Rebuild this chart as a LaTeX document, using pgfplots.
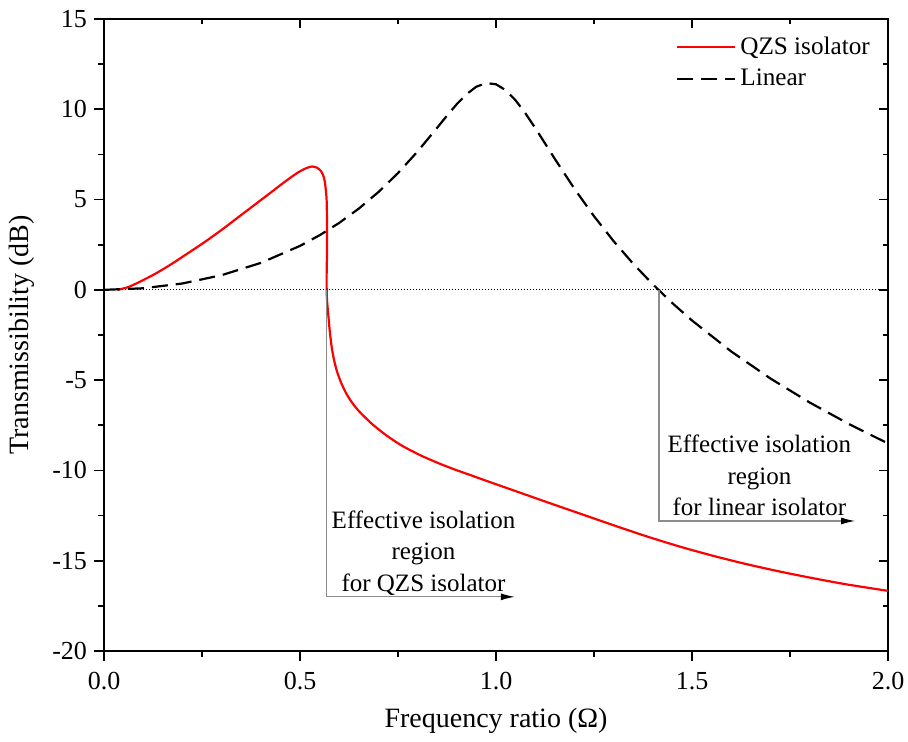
\documentclass[border=0pt]{standalone}
\usepackage{fontspec}
\setmainfont{Liberation Serif}
\usepackage{pgfplots}
\pgfplotsset{compat=1.18}
\usetikzlibrary{arrows.meta}
\begin{document}
\begin{tikzpicture}
\begin{axis}[
  scale only axis, width=392pt, height=316pt,
  xmin=0, xmax=2, ymin=-20, ymax=15,
  xtick={0,0.5,1,1.5,2}, ytick={-20,-15,-10,-5,0,5,10,15},
  minor x tick num=1, minor y tick num=1,
  xtick pos=left, ytick pos=left, tick align=outside,
  major tick length=5pt, minor tick length=2.8pt,
  axis line style={line width=0.8pt},
  tick style={line width=0.8pt, black},
  /pgf/number format/assume math mode=true,
  xticklabel style={/pgf/number format/.cd, fixed, fixed zerofill, precision=1, /tikz/.cd, yshift=-2pt},
  tick label style={font=\fontsize{13}{15}\selectfont},
  xlabel={Frequency ratio (Ω)},
  ylabel={Transmissibility (dB)},
  label style={font=\fontsize{14}{16}\selectfont},
  xlabel style={at={(rel axis cs:0.5,-0.11)}, anchor=center},
  ylabel style={at={(rel axis cs:-0.1046,0.5)}, anchor=center},
  legend cell align=left,
  legend style={draw=none, fill=none, at={(rel axis cs:0.985,0.982)}, anchor=north east,
    font=\fontsize{12.6}{14}\selectfont, row sep=2pt, inner sep=1pt},
  legend image code/.code={\draw[#1] (0pt,0pt) -- (29pt,0pt);},
]
\coordinate (SW) at (rel axis cs:0,0);
\coordinate (NE) at (rel axis cs:1,1);
\addplot[red, line width=1.1pt, smooth, tension=0.4] coordinates {
(0.034,0) (0.06,0.14) (0.085,0.38) (0.13,0.88) (0.17,1.40) (0.21,1.97) (0.255,2.62) (0.30,3.32)
(0.34,3.98) (0.38,4.64) (0.425,5.38) (0.45,5.80) (0.476,6.22) (0.495,6.50) (0.51,6.68) (0.521,6.78)
(0.531,6.83) (0.543,6.77) (0.553,6.59) (0.559,6.35) (0.563,6.03) (0.566,5.5) (0.568,4.93)
(0.569,3.5) (0.569,2.16) (0.568,1.0) (0.568,0) (0.569,-0.6) (0.572,-1.35) (0.576,-2.3)
(0.581,-3.19) (0.587,-3.9) (0.594,-4.49) (0.605,-5.15) (0.619,-5.78) (0.635,-6.31) (0.653,-6.78)
(0.685,-7.45) (0.721,-8.07) (0.76,-8.63) (0.806,-9.15) (0.85,-9.57) (0.891,-9.92) (0.935,-10.26)
(0.959,-10.45) (1.044,-11.1) (1.129,-11.75) (1.214,-12.39) (1.299,-13.03) (1.384,-13.65)
(1.469,-14.22) (1.554,-14.73) (1.639,-15.19) (1.724,-15.60) (1.809,-15.97) (1.894,-16.31) (2.0,-16.67)
};
\addlegendentry{QZS isolator}
\addplot[black, line width=1.1pt, dash pattern=on 8pt off 4pt] coordinates {
(0,0) (0.1,0.087) (0.2,0.353) (0.3,0.813) (0.4,1.492) (0.5,2.434) (0.55,3.024) (0.6,3.708)
(0.65,4.499) (0.7,5.414) (0.75,6.467) (0.8,7.665) (0.85,8.980) (0.875,9.648) (0.9,10.285)
(0.925,10.841) (0.95,11.252) (0.975,11.449) (1.0,11.385) (1.025,11.053) (1.05,10.495)
(1.075,9.777) (1.1,8.965) (1.125,8.112) (1.15,7.254) (1.2,5.600) (1.25,4.078) (1.3,2.697)
(1.35,1.445) (1.4,0.306) (1.45,-0.737) (1.5,-1.697) (1.6,-3.412) (1.7,-4.909) (1.8,-6.236)
(1.9,-7.427) (2.0,-8.507)
};
\addlegendentry{Linear}
\addplot[black, line width=0.5pt, densely dotted, forget plot] coordinates {(0,0) (2,0)};
\draw[black!45, line width=0.6pt, -{Latex[black, length=7pt, width=3.5pt]}]
  (axis cs:0.567,0) -- (axis cs:0.567,-17.0) -- (axis cs:1.048,-17.0);
\draw[black!45, line width=0.6pt, -{Latex[black, length=7pt, width=3.5pt]}]
  (axis cs:1.416,0) -- (axis cs:1.416,-12.8) -- (axis cs:1.916,-12.8);
\node[align=center, anchor=south, font=\fontsize{12.5}{15.75}\selectfont, inner sep=0pt]
  at (axis cs:0.815,-16.95) {Effective isolation\\region\\for QZS isolator};
\node[align=center, anchor=south, font=\fontsize{12.5}{15.75}\selectfont, inner sep=0pt]
  at (axis cs:1.672,-12.55) {Effective isolation\\region\\for linear isolator};
\end{axis}
\begin{axis}[
  scale only axis, width=392pt, height=316pt,
  xmin=0, xmax=2, ymin=-20, ymax=15,
  xtick={0,0.5,1,1.5,2}, ytick={-20,-15,-10,-5,0,5,10,15},
  minor x tick num=1, minor y tick num=1,
  xtick pos=right, ytick pos=right, tick align=inside,
  major tick length=4.5pt, minor tick length=2.5pt,
  xticklabels={}, yticklabels={},
  axis line style={draw=none},
  tick style={line width=0.8pt, black},
]
\end{axis}
\pgfresetboundingbox
\path[use as bounding box] ([xshift=-52pt,yshift=-45.5pt]SW) rectangle ([xshift=10pt,yshift=9.5pt]NE);
\end{tikzpicture}
\end{document}
